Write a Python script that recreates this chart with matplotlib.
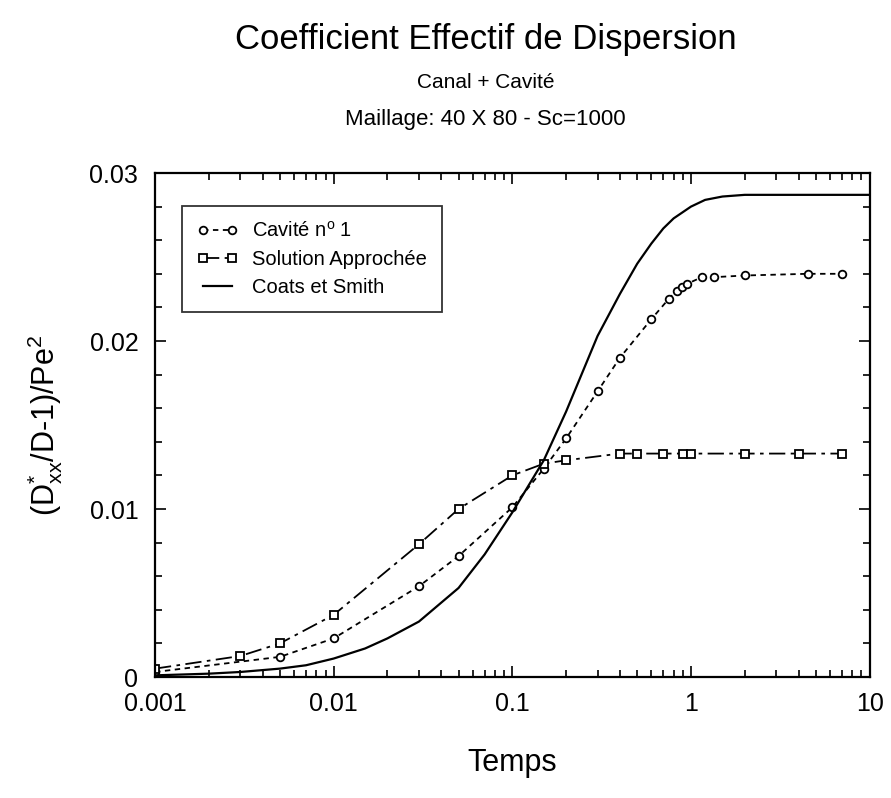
import matplotlib
matplotlib.use('Agg')
import matplotlib.pyplot as plt
from matplotlib.ticker import FixedLocator, FixedFormatter, LogLocator, MultipleLocator, NullFormatter

plt.rcParams['font.family'] = ['Liberation Sans', 'DejaVu Sans']
plt.rcParams['mathtext.fontset'] = 'custom'
plt.rcParams['mathtext.rm'] = 'Liberation Sans'
plt.rcParams['mathtext.it'] = 'Liberation Sans'

# Cavité n° 1 (cercles)
t_cav = [0.001, 0.005, 0.01, 0.03, 0.05, 0.1, 0.15, 0.2, 0.3, 0.4, 0.6, 0.75,
         0.83, 0.89, 0.95, 1.15, 1.35, 2.0, 4.5, 7.0]
d_cav = [0.0003, 0.0012, 0.0023, 0.0054, 0.0072, 0.0101, 0.0124, 0.0142, 0.0170,
         0.0190, 0.0213, 0.0225, 0.0230, 0.0232, 0.0234, 0.0238, 0.0238, 0.0239,
         0.0240, 0.0240]

# Solution approchée (carrés)
t_app = [0.001, 0.003, 0.005, 0.01, 0.03, 0.05, 0.1, 0.15, 0.2, 0.4, 0.5, 0.7,
         0.9, 1.0, 2.0, 4.0, 7.0]
d_app = [0.0005, 0.00125, 0.0020, 0.0037, 0.0079, 0.0100, 0.0120, 0.0127, 0.0129,
         0.0133, 0.0133, 0.0133, 0.0133, 0.0133, 0.0133, 0.0133, 0.0133]

# Coats et Smith (trait plein)
t_cs = [0.001, 0.002, 0.003, 0.005, 0.007, 0.01, 0.015, 0.02, 0.03, 0.05, 0.07,
        0.1, 0.15, 0.2, 0.3, 0.4, 0.5, 0.6, 0.7, 0.8, 1.0, 1.2, 1.5, 2.0, 3.0, 10.0]
d_cs = [0.0001, 0.0002, 0.0003, 0.0005, 0.0007, 0.0011, 0.0017, 0.0023, 0.0033,
        0.0053, 0.0073, 0.0098, 0.0129, 0.0158, 0.0203, 0.0228, 0.0246, 0.0258,
        0.0267, 0.0273, 0.0280, 0.0284, 0.0286, 0.0287, 0.0287, 0.0287]

x_ticks = [0.001, 0.01, 0.1, 1, 10]
x_labels = ['0.001', '0.01', '0.1', '1', '10']
y_ticks = [0, 0.01, 0.02, 0.03]
y_labels = ['0', '0.01', '0.02', '0.03']

fig = plt.figure(figsize=(8.91, 7.98), dpi=100)
ax = fig.add_axes([0.174, 0.1516, 0.802, 0.6316])

ax.plot(t_cav, d_cav, color='black', lw=1.3, linestyle=(0, (3, 2.5)),
        marker='o', ms=5.5, mfc='white', mec='black', mew=1.3,
        label='Cavité n$^{\\mathregular{o}}$ 1')
ax.plot(t_app, d_app, color='black', lw=1.3, linestyle=(0, (9, 3, 2, 3)),
        marker='s', ms=5.5, mfc='white', mec='black', mew=1.3,
        label='Solution Approchée')
ax.plot(t_cs, d_cs, color='black', lw=1.6, linestyle='-', label='Coats et Smith')

ax.set_xscale('log')
ax.set_xlim(0.001, 10)
ax.set_ylim(0, 0.03)

ax.xaxis.set_major_locator(FixedLocator(x_ticks))
ax.xaxis.set_major_formatter(FixedFormatter(x_labels))
ax.xaxis.set_minor_locator(LogLocator(base=10, subs=range(2, 10)))
ax.xaxis.set_minor_formatter(NullFormatter())
ax.yaxis.set_major_locator(FixedLocator(y_ticks))
ax.yaxis.set_major_formatter(FixedFormatter(y_labels))
ax.yaxis.set_minor_locator(MultipleLocator(0.002))

ax.tick_params(which='both', direction='in', top=True, right=True, width=1.2,
               labelsize=18)
ax.tick_params(axis='x', which='major', pad=11)
ax.tick_params(axis='y', which='major', pad=12)
ax.tick_params(which='major', length=8)
ax.tick_params(which='minor', length=5)
for sp in ax.spines.values():
    sp.set_linewidth(1.6)

ax.set_xlabel('Temps', fontsize=22, va='top')
ax.xaxis.set_label_coords(0.5, -0.14)
ax.set_ylabel(r'(D$^{*}_{xx}$/D-1)/Pe$^{2}$', fontsize=22, va='center')
ax.yaxis.set_label_coords(-0.154, 0.5)

leg = ax.legend(loc='upper left', bbox_to_anchor=(0.038, 0.935), fontsize=14.5,
                frameon=True, fancybox=False, edgecolor='black', numpoints=2,
                handlelength=2.0, handletextpad=0.7, borderpad=0.75,
                labelspacing=0.45, borderaxespad=0)
leg.get_frame().set_linewidth(1.3)

fig.text(0.545, 0.950, 'Coefficient Effectif de Dispersion', ha='center',
         va='center', fontsize=25)
fig.text(0.545, 0.897, 'Canal + Cavité', ha='center', va='center', fontsize=15)
fig.text(0.545, 0.850, 'Maillage: 40 X 80 - Sc=1000', ha='center', va='center',
         fontsize=16)

fig.savefig('out.png', dpi=100)
